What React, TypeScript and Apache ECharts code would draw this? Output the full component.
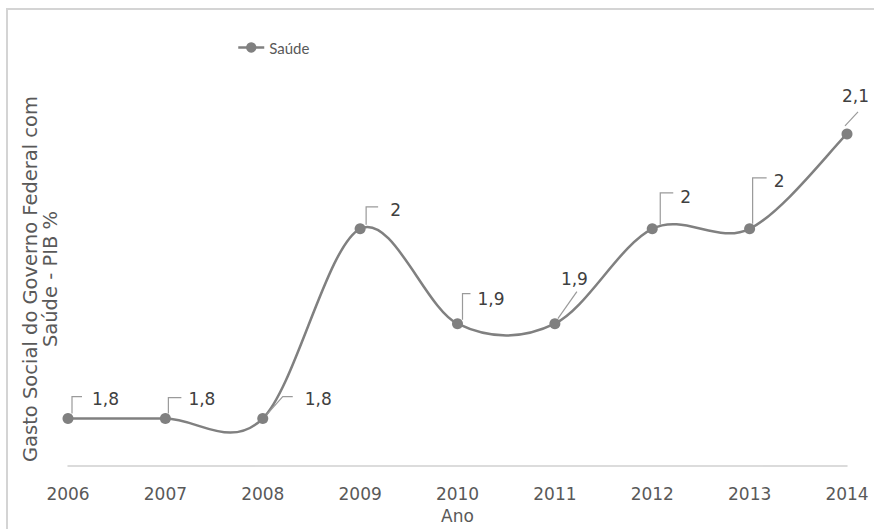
import React, { useEffect, useRef } from "react";
import * as echarts from "echarts";

const years = ["2006", "2007", "2008", "2009", "2010", "2011", "2012", "2013", "2014"];
const saude = [1.8, 1.8, 1.8, 2, 1.9, 1.9, 2, 2, 2.1];
const seriesName = "Saúde";
const xName = "Ano";
const yName = "Gasto Social do Governo Federal com\nSaúde - PIB %";

// label placement (text offset and leader polyline, relative to each point)
const labelText = [
  [24, -20], [23, -20], [42, -20], [30, -19], [20, -25], [6, -45], [28, -32], [24, -48], [-5, -38],
];
const leaders = [
  [[4, -5], [4, -22], [14, -22]],
  [[3, -5], [3, -21], [16, -21]],
  [[4, -4], [20, -22], [30, -22]],
  [[6, -4], [6, -22], [18, -22]],
  [[5, -4], [5, -30], [13, -30]],
  [[3, -5], [22, -32]],
  [[8, -4], [8, -36], [21, -36]],
  [[3, -5], [3, -51], [17, -51]],
  [[-2, -8], [11, -22]],
];

const FONT = "DejaVu Sans";
const LINE = "#808080";

export default function App() {
  const ref = useRef<HTMLDivElement>(null);
  useEffect(() => {
    const chart = echarts.init(ref.current!, null, { renderer: "svg" });
    chart.setOption({
      animation: false,
      backgroundColor: "#ffffff",
      textStyle: { fontFamily: FONT },
      graphic: [
        {
          type: "rect",
          shape: { x: 7, y: 9, width: 900, height: 600 },
          style: { fill: "none", stroke: "#d4d4d4", lineWidth: 2 },
          silent: true,
          z: -1,
        },
        {
          type: "text",
          x: 40,
          y: 279,
          rotation: Math.PI / 2,
          silent: true,
          style: {
            text: yName,
            fill: "#595959",
            fontFamily: FONT,
            fontSize: 19.5,
            lineHeight: 20,
            align: "center",
            verticalAlign: "middle",
          },
        },
      ],
      legend: {
        data: [seriesName],
        left: 237,
        top: 40,
        padding: 0,
        itemWidth: 26,
        itemHeight: 13,
        lineStyle: { color: LINE, width: 2.5, opacity: 1 },
        itemStyle: { color: LINE },
        textStyle: { fontFamily: "'Liberation Sans Narrow', Lato", fontSize: 15, color: "#595959" },
      },
      grid: { left: 68, right: 27, top: 39, bottom: 54 },
      xAxis: {
        type: "category",
        data: years,
        boundaryGap: false,
        name: xName,
        nameLocation: "middle",
        nameGap: 41,
        nameTextStyle: { fontFamily: FONT, fontSize: 17, color: "#595959" },
        axisLine: { lineStyle: { color: "#d0d0d0", width: 1.5 } },
        axisTick: { show: false },
        axisLabel: { margin: 19, fontFamily: FONT, fontSize: 17, color: "#595959" },
      },
      yAxis: {
        type: "value",
        min: 1.75,
        max: 2.2,
        axisLine: { show: false },
        axisTick: { show: false },
        axisLabel: { show: false },
        splitLine: { show: false },
      },
      series: [
        {
          name: "curve",
          type: "custom",
          data: saude.map((v, i) => [i, v]),
          clip: false,
          z: 1,
          silent: true,
          renderItem: (params: any, api: any) => {
            const i = params.dataIndex;
            const n = saude.length;
            if (i >= n - 1) return { type: "group", children: [] };
            const c = (j: number) => api.coord([j, saude[Math.max(0, Math.min(n - 1, j))]]);
            const p0 = c(Math.max(0, i - 1));
            const p1 = c(i);
            const p2 = c(i + 1);
            const p3 = c(Math.min(n - 1, i + 2));
            return {
              type: "bezierCurve",
              shape: {
                x1: p1[0],
                y1: p1[1],
                cpx1: p1[0] + (p2[0] - p0[0]) / 6,
                cpy1: p1[1] + (p2[1] - p0[1]) / 6,
                cpx2: p2[0] - (p3[0] - p1[0]) / 6,
                cpy2: p2[1] - (p3[1] - p1[1]) / 6,
                x2: p2[0],
                y2: p2[1],
              },
              style: { stroke: LINE, lineWidth: 2.5, fill: "none" },
            };
          },
        },
        {
          name: seriesName,
          type: "line",
          data: saude,
          symbol: "circle",
          symbolSize: 11,
          itemStyle: { color: LINE },
          lineStyle: { color: LINE, width: 2.5, opacity: 0 },
          z: 2,
        },
        {
          name: "labels",
          type: "custom",
          data: saude.map((v, i) => [i, v]),
          clip: false,
          z: 3,
          silent: true,
          renderItem: (params: any, api: any) => {
            const i = params.dataIndex;
            const v = api.value(1);
            const p = api.coord([api.value(0), v]);
            const lt = labelText[i];
            const ld = leaders[i];
            return {
              type: "group",
              children: [
                {
                  type: "polyline",
                  shape: { points: ld.map((q) => [p[0] + q[0], p[1] + q[1]]) },
                  style: { stroke: "#9a9a9a", lineWidth: 1.2, fill: "none" },
                },
                {
                  type: "text",
                  x: p[0] + lt[0],
                  y: p[1] + lt[1],
                  style: {
                    text: String(v).replace(".", ","),
                    fill: "#404040",
                    fontFamily: FONT,
                    fontSize: 17,
                    align: "left",
                    verticalAlign: "middle",
                  },
                },
              ],
            };
          },
        },
      ],
    });
    return () => chart.dispose();
  }, []);
  return (
    <div
      ref={ref}
      style={{ position: "absolute", left: 0, top: 0, width: 874, height: 529 }}
    />
  );
}
